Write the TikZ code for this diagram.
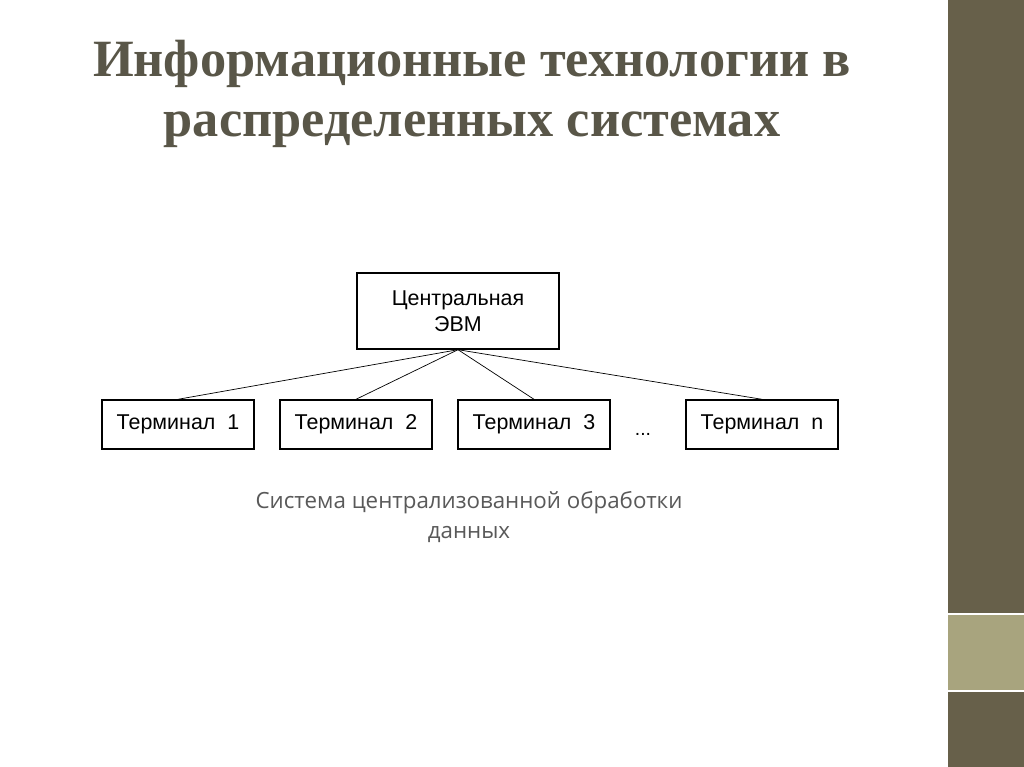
\documentclass[tikz,border=0pt]{standalone}
\usepackage{fontspec}
\setmainfont{Liberation Serif}
\setsansfont{Liberation Sans}
\newfontfamily\captionfont{Open Sans}
\usetikzlibrary{positioning}
\definecolor{barolive}{HTML}{67604A}
\definecolor{barlight}{HTML}{A8A47E}
\definecolor{titlegray}{HTML}{595648}
\definecolor{capgray}{HTML}{595959}
\tikzset{
	unitbox/.style={draw,thick,fill=white,font=\sffamily\fontsize{12.2}{14.5}\selectfont,align=center,inner sep=0pt},
	term/.style={unitbox,minimum width=3.04cm,minimum height=0.98cm}
}
\begin{document}
\begin{tikzpicture}[x=0.02cm,y=-0.02cm]
	\useasboundingbox (0,0) rectangle (1024,767);
	\fill[white] (0,0) rectangle (1024,767);
	% right bar
	\fill[barolive] (948,0) rectangle (1024,767);
	\fill[barlight] (948,615) rectangle (1024,690);
	\draw[white,line width=1.5pt] (948,614) -- (1024,614) (948,691) -- (1024,691);
	% title
	\node[font=\bfseries\fontsize{29.8}{34}\selectfont,text=titlegray,align=center] (title) at (472,94)
		{Информационные технологии в\\распределенных системах};
	% diagram
	\node[unitbox,minimum width=4.04cm,minimum height=1.52cm] (evm) at (458,311) {Центральная\\ЭВМ};
	\node[term] (t1) at (178,424.5) {Терминал\ \ 1};
	\node[term] (t2) at (356,424.5) {Терминал\ \ 2};
	\node[term] (t3) at (534,424.5) {Терминал\ \ 3};
	\node[term] (tn) at (762,424.5) {Терминал\ \ n};
	\node[font=\sffamily\fontsize{11}{13}\selectfont] (dots) at (643,434) {...};
	\foreach \t in {t1,t2,t3,tn}
		\draw (evm.south) -- (\t.north);
	% caption
	\node[font=\captionfont\fontsize{12.7}{17.5}\selectfont,text=capgray,align=center] (cap) at (469,517)
		{Система централизованной обработки\\данных};
\end{tikzpicture}
\end{document}
